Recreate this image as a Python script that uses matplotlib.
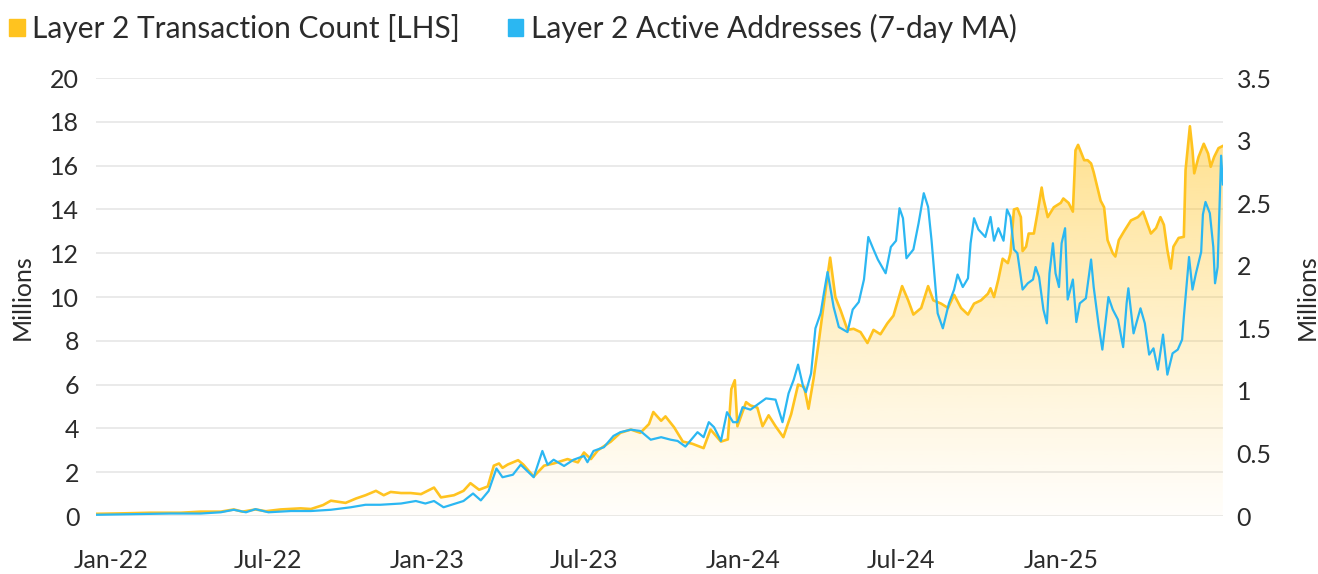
import matplotlib
matplotlib.use("Agg")
import matplotlib.pyplot as plt
import matplotlib.dates as mdates
from matplotlib.patches import Patch
from matplotlib.colors import to_rgb
import numpy as np
import pandas as pd

plt.rcParams['font.family'] = ['Lato', 'DejaVu Sans']

base_date = pd.Timestamp("2022-01-01")

# Layer 2 transaction count (millions, left axis), days since 1 Jan 2022
tx_days = [-17, 12, 46, 81, 104, 127, 142, 152, 167, 179, 196, 219, 231, 245, 254,
           271, 283, 294, 306, 315, 323, 335, 346, 358, 373, 381, 396, 407, 415, 425,
           435, 442, 448, 452, 458, 470, 476, 488, 500, 511, 527, 539, 546, 554, 562,
           577, 588, 600, 611, 621, 626, 635, 640, 650, 660, 671, 684, 692, 704, 712,
           716, 720, 723, 733, 738, 746, 752, 759, 767, 776, 785, 793, 800, 805, 811,
           817, 825, 830, 836, 842, 850, 857, 865, 873, 880, 888, 896, 903, 913, 920,
           926, 935, 943, 949, 958, 966, 973, 981, 989, 996, 1004, 1012, 1015, 1019,
           1024, 1029, 1035, 1038, 1042, 1046, 1050, 1052, 1056, 1059, 1065, 1069,
           1074, 1076, 1081, 1088, 1096, 1099, 1105, 1110, 1113, 1116, 1123, 1127,
           1131, 1134, 1139, 1142, 1146, 1150, 1156, 1159, 1163, 1169, 1177, 1185,
           1191, 1196, 1200, 1206, 1211, 1215, 1219, 1223, 1226, 1232, 1238, 1240,
           1245, 1248, 1250, 1255, 1261, 1266, 1269, 1273, 1278, 1283]
tx_count = [0.10, 0.12, 0.15, 0.15, 0.20, 0.20, 0.30, 0.20, 0.30, 0.22, 0.30, 0.35, 0.32, 0.50, 0.70,
            0.60, 0.80, 0.95, 1.15, 0.95, 1.10, 1.05, 1.05, 1.00, 1.30, 0.85, 0.95, 1.15, 1.50, 1.20,
            1.35, 2.30, 2.40, 2.20, 2.35, 2.55, 2.35, 1.80, 2.30, 2.40, 2.60, 2.45, 2.90, 2.60, 3.00,
            3.40, 3.80, 3.95, 3.80, 4.20, 4.75, 4.35, 4.55, 4.05, 3.40, 3.30, 3.10, 3.95, 3.40, 3.50,
            5.80, 6.20, 4.10, 5.20, 5.05, 4.95, 4.10, 4.60, 4.10, 3.60, 4.65, 6.00, 5.90, 4.90, 6.30,
            8.00, 10.40, 11.80, 10.00, 9.40, 8.50, 8.55, 8.40, 7.90, 8.50, 8.30, 8.80, 9.15, 10.50, 9.85,
            9.20, 9.50, 10.50, 9.85, 9.70, 9.50, 10.10, 9.50, 9.20, 9.70, 9.85, 10.15, 10.40, 10.00,
            10.80, 11.75, 11.55, 12.00, 14.00, 14.05, 13.65, 12.10, 12.30, 12.90, 12.90, 13.80,
            15.00, 14.50, 13.65, 14.10, 14.30, 14.50, 14.30, 13.90, 16.70, 16.95, 16.25, 16.25,
            16.10, 15.70, 14.90, 14.40, 14.10, 12.60, 12.00, 11.85, 12.60, 13.00, 13.50, 13.65,
            13.90, 13.35, 12.90, 13.15, 13.65, 13.30, 12.15, 11.30, 12.30, 12.70, 12.75, 15.80,
            17.80, 16.70, 15.65, 16.40, 17.00, 16.55, 15.95, 16.40, 16.80, 16.90]

# Layer 2 active addresses, 7-day MA (millions, right axis)
addr_days = [-17, 23, 69, 104, 127, 142, 156, 167, 182, 208, 231, 254, 277, 294, 311,
             335, 352, 363, 373, 384, 407, 418, 427, 436, 445, 452, 464, 473, 488, 498,
             504, 511, 523, 534, 546, 550, 557, 569, 580, 588, 600, 611, 623, 635, 646,
             654, 663, 677, 684, 690, 696, 704, 711, 718, 723, 729, 738, 746, 756, 767,
             775, 782, 788, 793, 799, 802, 808, 813, 819, 823, 827, 834, 840, 850, 856,
             863, 869, 874, 880, 885, 894, 900, 906, 910, 914, 918, 926, 932, 938, 943,
             947, 954, 960, 967, 973, 977, 983, 989, 992, 996, 1001, 1009, 1015, 1019,
             1024, 1030, 1034, 1038, 1042, 1046, 1052, 1058, 1064, 1067, 1071, 1076,
             1080, 1083, 1087, 1090, 1094, 1097, 1101, 1104, 1110, 1114, 1118, 1125,
             1131, 1134, 1140, 1144, 1151, 1156, 1162, 1168, 1172, 1174, 1180, 1188,
             1193, 1198, 1203, 1208, 1214, 1219, 1225, 1231, 1236, 1238, 1244, 1248,
             1252, 1258, 1260, 1263, 1268, 1272, 1274, 1277, 1281, 1283]
addr_ma = [0.010, 0.015, 0.020, 0.020, 0.030, 0.050, 0.030, 0.055, 0.030, 0.040, 0.040, 0.050, 0.070, 0.090, 0.090,
           0.100, 0.120, 0.100, 0.120, 0.070, 0.120, 0.180, 0.125, 0.200, 0.380, 0.310, 0.330, 0.410, 0.310, 0.520,
           0.410, 0.450, 0.400, 0.450, 0.480, 0.430, 0.520, 0.550, 0.640, 0.670, 0.690, 0.680, 0.610, 0.630, 0.610,
           0.600, 0.555, 0.670, 0.630, 0.750, 0.710, 0.600, 0.830, 0.750, 0.750, 0.870, 0.850, 0.890, 0.940, 0.930,
           0.750, 0.980, 1.090, 1.210, 1.030, 0.990, 1.140, 1.500, 1.620, 1.790, 1.950, 1.670, 1.510, 1.470, 1.650,
           1.710, 1.890, 2.230, 2.130, 2.050, 1.940, 2.150, 2.200, 2.460, 2.380, 2.060, 2.130, 2.340, 2.580, 2.470,
           2.200, 1.620, 1.500, 1.700, 1.810, 1.930, 1.830, 1.900, 2.180, 2.380, 2.290, 2.230, 2.390, 2.200,
           2.300, 2.200, 2.450, 2.390, 2.130, 2.100, 1.810, 1.860, 1.890, 1.990, 1.910, 1.650,
           1.540, 1.940, 2.180, 1.940, 1.830, 2.180, 2.300, 1.730, 1.890, 1.550, 1.700, 1.740,
           2.050, 1.830, 1.510, 1.330, 1.750, 1.650, 1.570, 1.350, 1.700, 1.820, 1.460, 1.660,
           1.540, 1.290, 1.340, 1.170, 1.450, 1.130, 1.300, 1.330, 1.410, 1.590, 2.070, 1.810,
           1.940, 2.110, 2.410, 2.510, 2.420, 2.150, 1.860, 1.990, 2.880, 2.650]

tick_months = ["2022-01-01", "2022-07-01", "2023-01-01", "2023-07-01",
               "2024-01-01", "2024-07-01", "2025-01-01"]

yellow = "#FFC31F"
blue = "#2BB7F2"
grid_col = "#E8E8E8"
text_col = "#2B2B2B"

tx_x = mdates.date2num(base_date + pd.to_timedelta(tx_days, unit="D"))
addr_x = mdates.date2num(base_date + pd.to_timedelta(addr_days, unit="D"))

fig = plt.figure(figsize=(13.18, 5.74), dpi=100)
ax = fig.add_axes([0.0728, 0.101, 0.855, 0.763])
ax2 = ax.twinx()

# gradient fill under the transaction count line
x0, x1 = tx_x[0], tx_x[-1]
grad = np.linspace(0, 1, 256).reshape(-1, 1)
rgba = np.zeros((256, 1, 4))
rgba[..., :3] = to_rgb(yellow)
rgba[..., 3] = 0.02 + 0.52 * grad[..., 0:1] ** 1.1
im = ax.imshow(rgba, extent=[x0, x1, 0, 19], origin="lower", aspect="auto", zorder=1)
poly = ax.fill_between(tx_x, tx_count, 0, color="none", lw=0)
im.set_clip_path(poly.get_paths()[0], transform=ax.transData)

ax.plot(tx_x, tx_count, color=yellow, lw=1.9, zorder=3)
ax2.plot(addr_x, addr_ma, color=blue, lw=1.6, zorder=3)

ax.set_xlim(x0, x1)
ax.set_ylim(0, 20)
ax2.set_ylim(0, 3.5)
ax.set_yticks(np.arange(0, 21, 2))
ax2.set_yticks(np.arange(0, 3.51, 0.5))
ax2.set_yticklabels(["0", "0.5", "1", "1.5", "2", "2.5", "3", "3.5"])

ticks = mdates.date2num(pd.to_datetime(tick_months))
ax.set_xticks(ticks)
ax.set_xticklabels([pd.Timestamp(t).strftime("%b-%y") for t in tick_months])

ax.grid(axis="y", color=grid_col, lw=1.3)
ax.set_axisbelow(True)
for a in (ax, ax2):
    for s in a.spines.values():
        s.set_visible(False)
    a.tick_params(length=0, labelsize=18, colors=text_col)
ax.tick_params(axis="y", pad=12)
ax2.tick_params(axis="y", pad=10)
ax.tick_params(axis="x", pad=24)

ax.set_ylabel("Millions", fontsize=18, color=text_col, labelpad=12)
ax2.set_ylabel("Millions", fontsize=18, color=text_col, labelpad=17)

handles = [Patch(color=yellow), Patch(color=blue)]
labels = ["Layer 2 Transaction Count [LHS]", "Layer 2 Active Addresses (7-day MA)"]
fig.legend(handles, labels, loc="upper left", bbox_to_anchor=(-0.0135, 1.022), ncol=2,
           frameon=False, fontsize=21.5, handlelength=0.52, handleheight=0.52,
           handletextpad=0.25, columnspacing=1.6, labelcolor=text_col)

fig.savefig("out.png", dpi=100)
